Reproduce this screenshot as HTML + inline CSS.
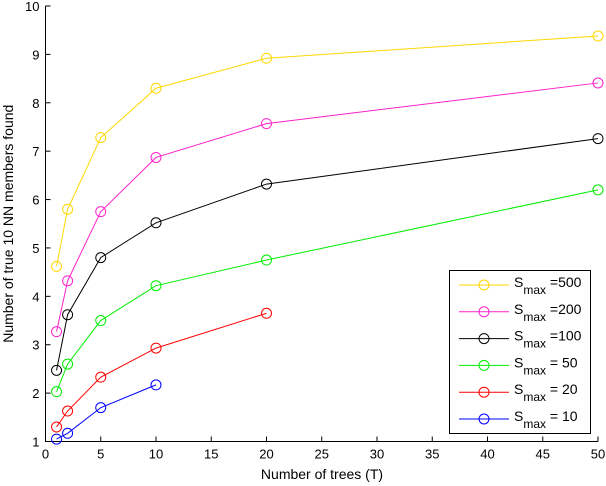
<!DOCTYPE html>
<html><head><meta charset="utf-8"><style>
body{margin:0;background:#fff}
svg{display:block;font-family:"Liberation Sans",sans-serif}
</style></head><body>
<svg id="c" width="606" height="486"></svg>
<script>
const xs=[1,2,5,10,20,50];
const s500=[4.62,5.8,7.28,8.3,8.92,9.38];
const s200=[3.27,4.32,5.75,6.87,7.57,8.41];
const s100=[2.47,3.62,4.8,5.52,6.32,7.26];
const s50=[2.03,2.6,3.5,4.22,4.75,6.2];
const s20=[1.3,1.63,2.33,2.93,3.65];
const s10=[1.05,1.17,1.7,2.17];
const xTicks=[0,5,10,15,20,25,30,35,40,45,50];
const yTicks=[1,2,3,4,5,6,7,8,9,10];
const series=[
 {name:'500',vals:s500,color:'#ffd700',label:'=500'},
 {name:'200',vals:s200,color:'#ff22cc',label:'=200'},
 {name:'100',vals:s100,color:'#000000',label:'=100'},
 {name:'50',vals:s50,color:'#00ee00',label:'= 50'},
 {name:'20',vals:s20,color:'#ff0000',label:'= 20'},
 {name:'10',vals:s10,color:'#0000ff',label:'= 10'}];
const X0=45.5,X1=598,Y0=441.5,Y1=6;
const xs_=v=>X0+(v-0)/50*(X1-X0);
const ys_=v=>Y0-(v-1)/9*(Y0-Y1);
const svg=document.getElementById('c');const NS='http://www.w3.org/2000/svg';
function mk(t,a,p){const e=document.createElementNS(NS,t);for(const k in a)e.setAttribute(k,a[k]);(p||svg).appendChild(e);return e;}
let ax=mk('path',{d:`M${X0},${Y1}V${Y0}H${X1}`,stroke:'#000',fill:'none','stroke-width':1});


xTicks.forEach(t=>{const x=xs_(t);
 const l=mk('line',{x1:x,x2:x,y1:Y0,y2:Y0-5,stroke:'#000'});
 
 
 const tx=mk('text',{x:x,y:Y0+17,'text-anchor':'middle','font-size':13});tx.textContent=t;
 
 });
yTicks.forEach(t=>{const y=ys_(t);
 const l=mk('line',{x1:X0,x2:X0+5,y1:y,y2:y,stroke:'#000'});
 
 
 const tx=mk('text',{x:X0-6,y:y+5,'text-anchor':'end','font-size':13});tx.textContent=t;
 
 });
let xt=mk('text',{x:322,y:479,'text-anchor':'middle','font-size':14});xt.textContent='Number of trees (T)';


let yt=mk('text',{x:0,y:0,'text-anchor':'middle','font-size':14,transform:`translate(13,${(Y0+Y1)/2}) rotate(-90)`});yt.textContent='Number of true 10 NN members found';


series.forEach(s=>{
 const g=mk('g',{});
 
 
 const pts=s.vals.map((v,i)=>xs_(xs[i])+','+ys_(v)).join(' ');
 mk('polyline',{points:pts,fill:'none',stroke:s.color,'stroke-width':1},g);
 s.vals.forEach((v,i)=>{const c=mk('circle',{cx:xs_(xs[i]),cy:ys_(v),r:5,fill:'none',stroke:s.color},g);
  
  });
});
const lg=mk('g',{});


mk('rect',{x:449.5,y:270.5,width:141,height:163,fill:'#fff',stroke:'#000'},lg);
series.forEach((s,i)=>{const y=285+i*26.8;
 const e=mk('g',{},lg);
 
 
 mk('line',{x1:459,x2:509,y1:y,y2:y,stroke:s.color},e);
 mk('circle',{cx:484,cy:y,r:5,fill:'none',stroke:s.color},e);
 const t=mk('text',{x:514,y:y+2,'font-size':14},e);
 t.innerHTML=`S<tspan font-size="12" dy="7">max</tspan><tspan dy="-7"> ${s.label}</tspan>`;
});
</script>
</body></html>
